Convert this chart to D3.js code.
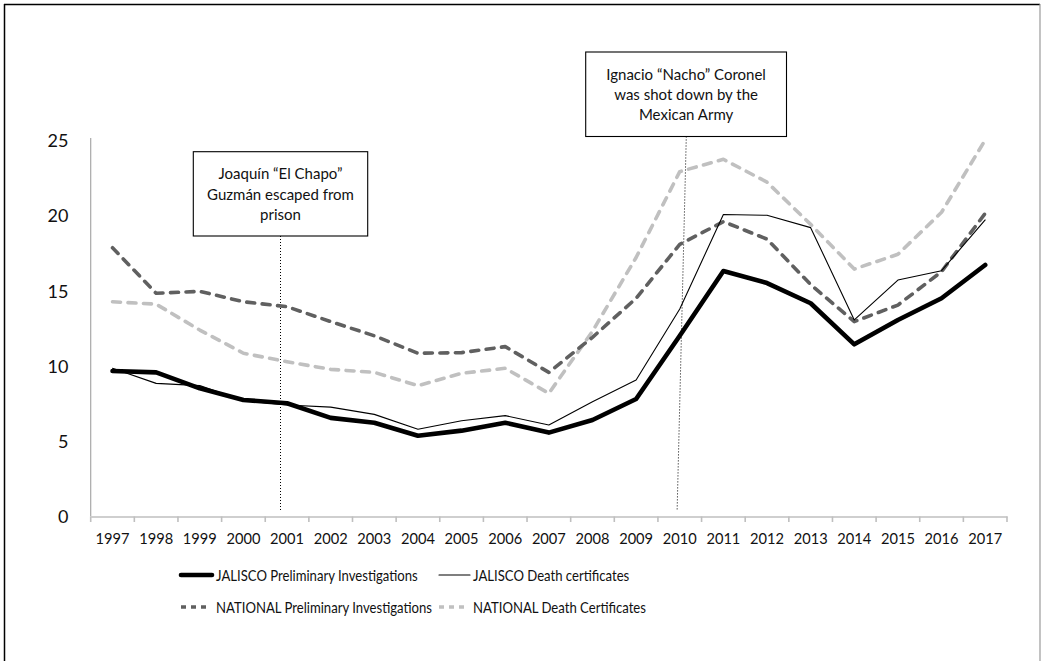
<!DOCTYPE html>
<html><head><meta charset="utf-8">
<script src="https://cdn.jsdelivr.net/npm/d3@7"></script>
<style>body{margin:0;background:#fff}svg{display:block}</style>
</head><body>
<script>
// ---- data ----
const years = [1997,1998,1999,2000,2001,2002,2003,2004,2005,2006,2007,2008,2009,2010,2011,2012,2013,2014,2015,2016,2017];
const jaliscoPI  = [9.66,9.57,8.51,7.74,7.52,6.55,6.23,5.36,5.70,6.23,5.57,6.41,7.80,12.0,16.30,15.50,14.16,11.43,13.05,14.49,16.70];
const jaliscoDC  = [9.84,8.84,8.69,7.69,7.40,7.26,6.78,5.79,6.36,6.70,6.08,7.62,9.06,13.78,20.05,20.00,19.18,13.05,15.70,16.32,19.69];
const nationalPI = [17.85,14.82,14.95,14.26,13.93,12.94,12.00,10.84,10.88,11.28,9.57,11.90,14.49,18.07,19.58,18.42,15.40,12.94,14.04,16.26,20.13];
const nationalDC = [14.26,14.10,12.38,10.84,10.28,9.77,9.57,8.69,9.51,9.84,8.18,12.30,17.20,22.90,23.72,22.20,19.40,16.43,17.41,20.20,25.00];
const yTicks = [0,5,10,15,20,25];
const seriesNames = ["JALISCO Preliminary Investigations","JALISCO Death certificates","NATIONAL Preliminary Investigations","NATIONAL Death Certificates"];
const annotations = [
  {year:2001, lines:["Joaquín “El Chapo”","Guzmán escaped from","prison"]},
  {year:2010, lines:["Ignacio “Nacho” Coronel","was shot down by the","Mexican Army"]}
];

// ---- styles ----
const FONT = "Lato, 'Open Sans', sans-serif";
const styles = [
  {color:"#000000", width:4.6, dash:null, legDash:null},
  {color:"#000000", width:1.1, dash:null, legDash:null},
  {color:"#606060", width:3.6, dash:"8,7.5", legDash:"5,5"},
  {color:"#c0c0c0", width:3.6, dash:"8,7.5", legDash:"5,5"}
];
const data = [jaliscoPI, jaliscoDC, nationalPI, nationalDC];

const W = 1041, H = 661;
const svg = d3.select("body").append("svg").attr("width",W).attr("height",H);

// frame
svg.append("rect").attr("x",0).attr("y",0).attr("width",W).attr("height",H).attr("fill","#fff");
svg.append("line").attr("x1",4.5).attr("x2",4.5).attr("y1",4).attr("y2",H).attr("stroke","#000").attr("stroke-width",1.5);
svg.append("line").attr("x1",4).attr("x2",1040).attr("y1",4.5).attr("y2",4.5).attr("stroke","#000").attr("stroke-width",1.5);
svg.append("line").attr("x1",1040).attr("x2",1040).attr("y1",4).attr("y2",H).attr("stroke","#9a9a9a").attr("stroke-width",1.2);

// scales
const x = d3.scaleBand().domain(years).range([90.7,1007]).padding(0);
const y = d3.scaleLinear().domain([0,25]).range([516.5,140]);
const cx = d => x(d) + x.bandwidth()/2;

// y axis line
svg.append("line").attr("x1",90.7).attr("x2",90.7).attr("y1",138).attr("y2",y(0))
  .attr("stroke","#a8a8a8").attr("stroke-width",1.2);

// y labels
const yAxis = svg.append("g").attr("transform","translate(68.5,0)")
  .call(d3.axisLeft(y).tickValues(yTicks).tickSize(0).tickPadding(0));
yAxis.select(".domain").remove();
yAxis.selectAll("text").attr("font-family",FONT).attr("font-size",18).attr("fill","#111").attr("dy","0.36em");

// x axis
const xAxisG = svg.append("g").attr("transform",`translate(0,${y(0)})`)
  .call(d3.axisBottom(x).tickSize(0).tickPadding(0));
xAxisG.select(".domain").attr("stroke","#bfbfbf").attr("stroke-width",1.6);
xAxisG.selectAll(".tick text").attr("font-family",FONT).attr("font-size",15.5).attr("fill","#111")
  .attr("y",28).attr("dy",0).attr("transform","scale(0.945,1)");
// boundary ticks
const edges = years.map(d=>x(d)).concat([x(years[years.length-1])+x.bandwidth()]);
svg.append("g").selectAll("line").data(edges).join("line")
  .attr("x1",d=>d).attr("x2",d=>d).attr("y1",y(0)).attr("y2",y(0)+5.5)
  .attr("stroke","#bfbfbf").attr("stroke-width",1.6);

// annotations
const annLayout = [
  {box:[193.3,151.7,367.7,236], top:[0.35,236], bottom:[0.35,512]},
  {box:[585.7,52,786.5,136.5], top:[0.65,136.5], bottom:[0.44,510]}
];
annotations.forEach((a,i)=>{
  const L = annLayout[i];
  const bx = x(a.year);
  svg.append("line").attr("x1",bx+L.top[0]*x.bandwidth()).attr("y1",L.top[1])
     .attr("x2",bx+L.bottom[0]*x.bandwidth()).attr("y2",L.bottom[1])
     .attr("stroke","#000").attr("stroke-width",1).attr("stroke-dasharray","1,2");
  svg.append("rect").attr("x",L.box[0]).attr("y",L.box[1]).attr("width",L.box[2]-L.box[0]).attr("height",L.box[3]-L.box[1])
     .attr("fill","#fff").attr("stroke","#000").attr("stroke-width",1.1);
  const mid = (L.box[0]+L.box[2])/2;
  const first = L.box[1]+27.5;
  a.lines.forEach((t,j)=>{
    svg.append("text").attr("x",mid).attr("y",first+j*20.3).attr("text-anchor","middle")
      .attr("font-family",FONT).attr("font-size",15).attr("fill","#111").text(t);
  });
});

// lines
const lineGen = d3.line().x(d=>cx(d[0])).y(d=>y(d[1]));
const order = [3,2,1,0];
order.forEach(i=>{
  const s = styles[i];
  svg.append("path").datum(years.map((yr,k)=>[yr,data[i][k]]))
    .attr("d",lineGen).attr("fill","none").attr("stroke",s.color).attr("stroke-width",s.width)
    .attr("stroke-linejoin","round").attr("stroke-linecap","round")
    .attr("stroke-dasharray",s.dash);
});

// legend
const legItems = [
  {x0:181, x1:212, tx:216, ty:575},
  {x0:439, x1:470, tx:473, ty:575},
  {x0:181, x1:210, tx:216, ty:607},
  {x0:439, x1:469, tx:473, ty:607}
];
legItems.forEach((L,i)=>{
  const s = styles[i];
  svg.append("line").attr("x1",L.x0).attr("x2",L.x1).attr("y1",L.ty).attr("y2",L.ty)
    .attr("stroke",s.color).attr("stroke-width",s.width).attr("stroke-linecap",i<2?"round":"butt")
    .attr("stroke-dasharray",s.legDash);
  svg.append("text").attr("transform",`translate(${L.tx},${L.ty+5.8}) scale(0.82,1)`)
    .attr("font-family",FONT).attr("font-size",16).attr("fill","#111").text(seriesNames[i]);
});
</script>
</body></html>
